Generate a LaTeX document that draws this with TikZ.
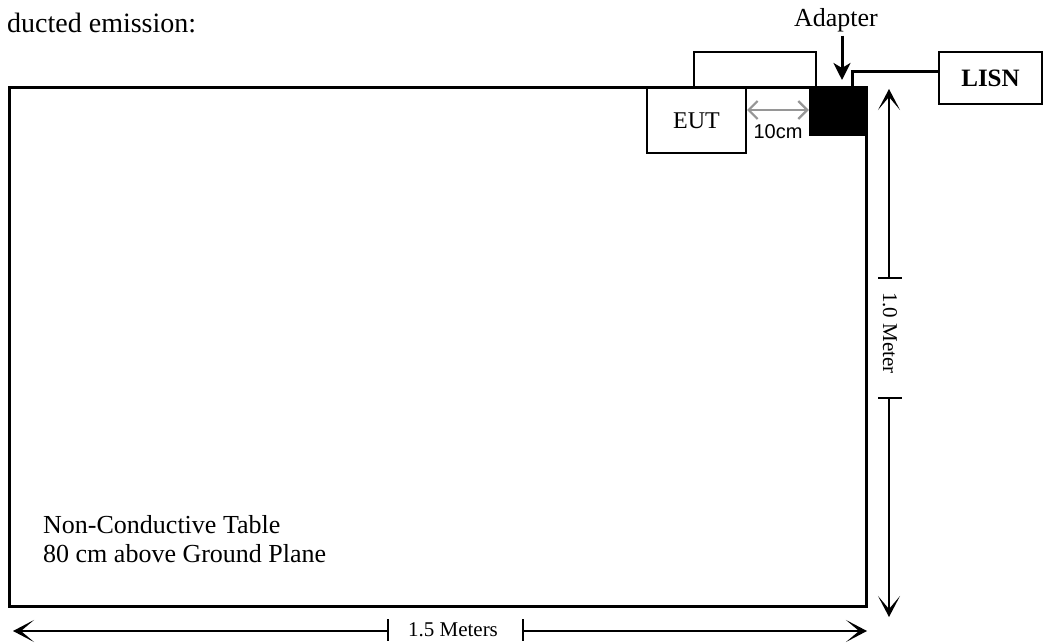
\documentclass[tikz,border=0pt]{standalone}
\usepackage{fontspec}
\setmainfont{Liberation Serif}
\newfontfamily\arialfont{Liberation Sans}
\usetikzlibrary{arrows.meta}
\definecolor{dimgrayarrow}{RGB}{150,150,150}
\begin{document}
\begin{tikzpicture}[x=1pt,y=-1pt,
  box/.style={draw, line width=2pt, inner sep=0pt, fill=white},
  txt/.style={inner sep=0pt, font=\fontsize{26}{30}\selectfont},
  dimhead/.style={line width=1.6pt, -{Stealth[length=21pt,width=22pt,inset=13pt]}},
  ticks/.style={line width=1.6pt},
  cable/.style={line width=3pt}]
\useasboundingbox (0,0) rectangle (1044,644);

% box above the EUT
\node[box, minimum width=122pt, minimum height=36pt] (topbox) at (755,70) {};
% table
\node[draw, line width=3pt, minimum width=857pt, minimum height=518pt, inner sep=0pt] (table) at (437.5,347) {};
% EUT
\node[box, minimum width=99pt, minimum height=65pt, font=\fontsize{24}{28}\selectfont] (eut) at (696.5,120.5) {EUT};
% adapter
\node[fill=black, minimum width=56pt, minimum height=48pt, inner sep=0pt] (adapter) at (837,112) {};
% LISN
\node[box, minimum width=103pt, minimum height=52pt, font=\fontsize{25}{28}\selectfont\bfseries] (lisn) at (990.5,78) {LISN};

% cable from adapter to LISN
\draw[cable] ([xshift=15pt]adapter.north) |- ([yshift=6pt]lisn.west);

% adapter label and arrow
\node[txt, anchor=base] (adlbl) at (836,27) {Adapter};
\coordinate (adtip) at (842,80);
\draw[line width=3pt, -{Stealth[length=17pt,width=17pt,inset=5pt]}] (adlbl.south -| adtip) ++(0,3) -- (adtip);

% 10 cm spacing arrow
\coordinate (gy) at (0,110);
\draw[dimgrayarrow, line width=2.2pt, {Straight Barb[length=9pt,width=18pt]}-{Straight Barb[length=9pt,width=18pt]}]
  (eut.east |- gy) -- (adapter.west |- gy);
\node[inner sep=0pt, font=\arialfont\fontsize{20}{24}\selectfont] (tencm) at (778,132) {10cm};

% title text
\node[inner sep=0pt, anchor=base west, font=\fontsize{28}{32}\selectfont] (title) at (7,33) {ducted emission:};

% table labels
\node[txt, anchor=base west] (tbla) at (43,533) {Non-Conductive Table};
\node[txt, anchor=base west] (tblb) at (43,562) {80 cm above Ground Plane};

% vertical dimension 1.0 Meter
\coordinate (vt1) at (889,278);
\coordinate (vt2) at (889,398);
\coordinate (vtop) at (889,89);
\coordinate (vbot) at (889,617);
\draw[ticks] ([xshift=-11pt]vt1) -- ([xshift=13pt]vt1);
\draw[ticks] ([xshift=-11pt]vt2) -- ([xshift=13pt]vt2);
\draw[dimhead] (vt1) -- (vtop);
\draw[dimhead] (vt2) -- (vbot);
\node[inner sep=0pt, rotate=-90, font=\fontsize{21}{24}\selectfont] (vlbl) at (890,333) {1.0 Meter};

% horizontal dimension 1.5 Meters
\coordinate (ht1) at (388,631);
\coordinate (ht2) at (523,631);
\coordinate (hleft) at (13,631);
\coordinate (hright) at (867,631);
\draw[ticks] ([yshift=12pt]ht1) -- ([yshift=-10pt]ht1);
\draw[ticks] ([yshift=12pt]ht2) -- ([yshift=-10pt]ht2);
\draw[dimhead] (ht1) -- (hleft);
\draw[dimhead] (ht2) -- (hright);
\node[inner sep=0pt, font=\fontsize{21}{24}\selectfont] (hlbl) at (453,630) {1.5 Meters};
\end{tikzpicture}
\end{document}
